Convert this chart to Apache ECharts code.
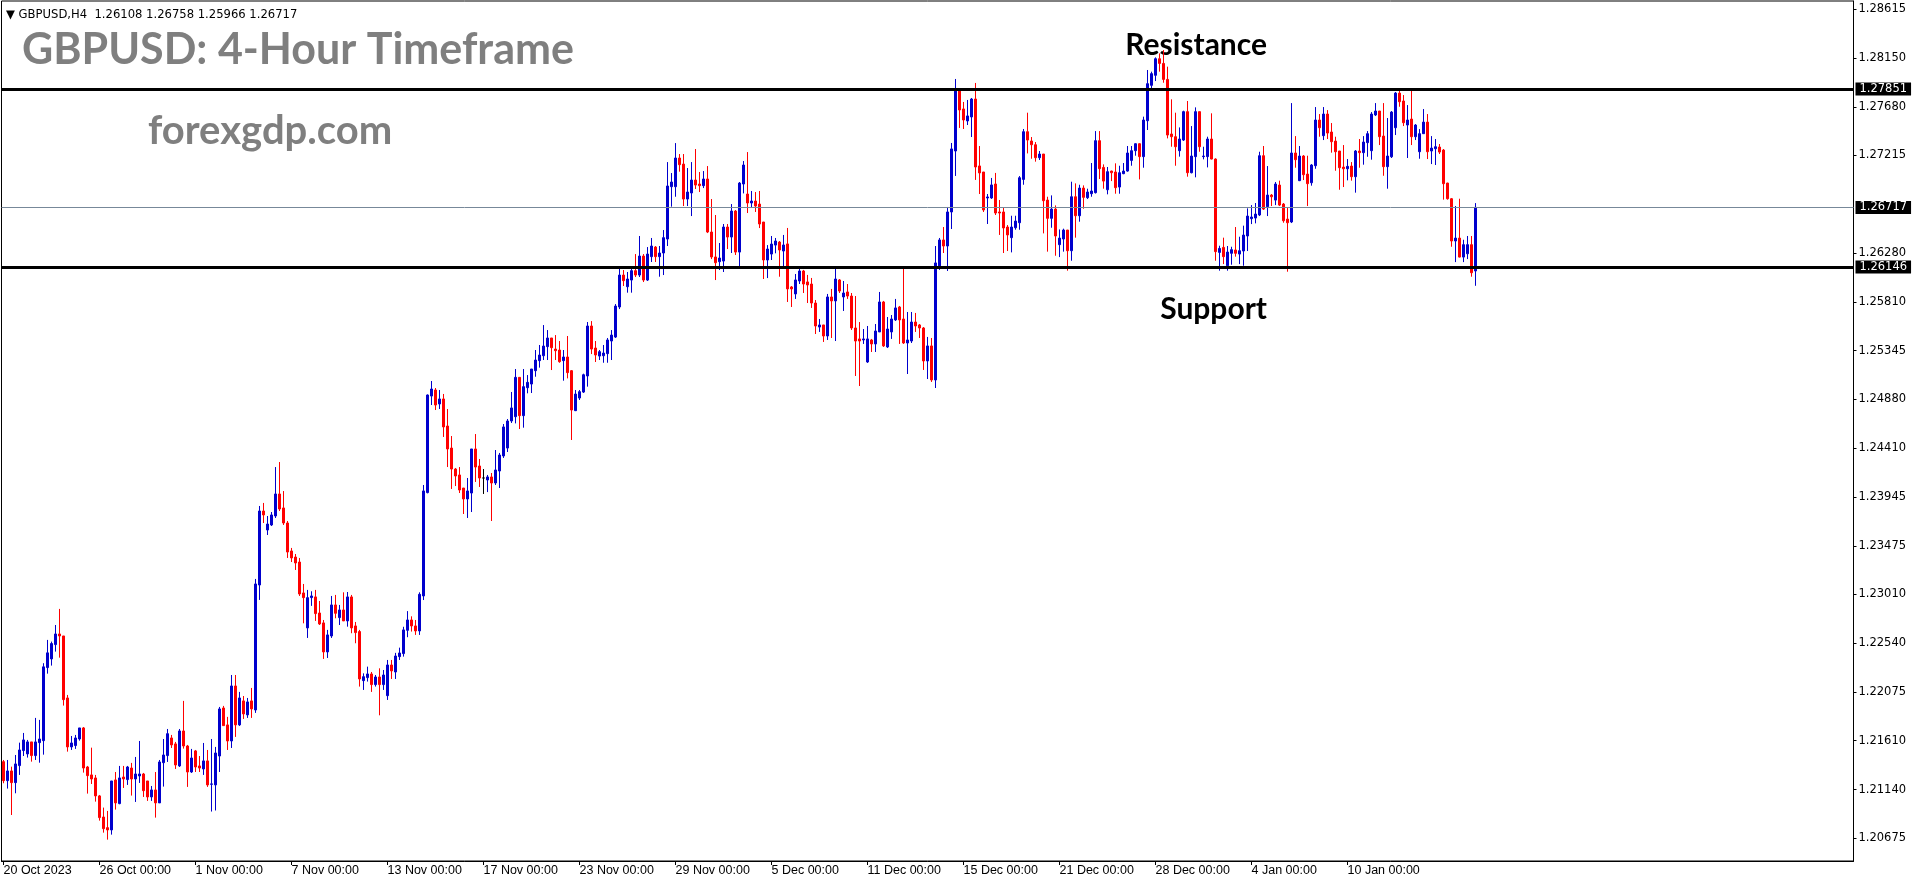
<!DOCTYPE html>
<html><head><meta charset="utf-8">
<script src="https://cdn.jsdelivr.net/npm/echarts@6/dist/echarts.min.js"></script>
<style>html,body{margin:0;padding:0;background:#fff;}#c{width:1916px;height:884px;}</style>
</head><body><div id="c"></div>
<script>
// ---------------- data ----------------
const symbolName = 'GBPUSD,H4';
const lastBarOHLC = ['1.26108', '1.26758', '1.25966', '1.26717'];
const titleText = 'GBPUSD: 4-Hour Timeframe';
const siteText = 'forexgdp.com';
const resistanceLevel = 1.27851;
const supportLevel = 1.26146;
const lastPrice = 1.26717;

const xTickLabels = ['20 Oct 2023','26 Oct 00:00','1 Nov 00:00','7 Nov 00:00','13 Nov 00:00','17 Nov 00:00',
  '23 Nov 00:00','29 Nov 00:00','5 Dec 00:00','11 Dec 00:00','15 Dec 00:00','21 Dec 00:00','28 Dec 00:00',
  '4 Jan 00:00','10 Jan 00:00','16 Jan 00:00'];
const yTickValues = [1.28615,1.28150,1.27680,1.27215,1.26280,1.25810,1.25345,1.24880,1.24410,1.23945,
  1.23475,1.23010,1.22540,1.22075,1.21610,1.21140,1.20675];

// rows: [open, high, low, close]
const octBars = [
[1.21408,1.21424,1.21201,1.21226],[1.21226,1.21424,1.21150,1.21319],[1.21319,1.21360,1.20897,1.21207],
[1.21207,1.21472,1.21105,1.21386],[1.21370,1.21590,1.21281,1.21520],[1.21514,1.21683,1.21462,1.21616],
[1.21482,1.21616,1.21447,1.21597],[1.21597,1.21597,1.21408,1.21466],[1.21466,1.21827,1.21424,1.21597],
[1.21590,1.21808,1.21398,1.21625],[1.21609,1.22351,1.21475,1.22316],[1.22309,1.22574,1.22251,1.22450],
[1.22392,1.22558,1.22328,1.22539],[1.22529,1.22717,1.22462,1.22631],[1.22631,1.22871,1.22404,1.22612],
[1.22612,1.22612,1.21945,1.22002],[1.22018,1.22047,1.21504,1.21549],[1.21549,1.21654,1.21520,1.21587],
[1.21562,1.21664,1.21530,1.21635],[1.21625,1.21731,1.21609,1.21731],[1.21731,1.21740,1.21303,1.21347],
[1.21357,1.21367,1.21102,1.21274],[1.21281,1.21542,1.21194,1.21242],[1.21252,1.21281,1.21025,1.21080],
[1.21080,1.21089,1.20843,1.20872],[1.20878,1.20968,1.20728,1.20766],[1.20776,1.20936,1.20661,1.20754],
[1.20754,1.21223,1.20709,1.21223],[1.21233,1.21309,1.20949,1.21013],[1.21006,1.21367,1.21000,1.21252],
[1.21261,1.21367,1.21156,1.21242],[1.21236,1.21367,1.21185,1.21357],[1.21347,1.21396,1.21083,1.21242],
[1.21242,1.21453,1.21022,1.21290],[1.21271,1.21606,1.21204,1.21290],[1.21290,1.21300,1.21070,1.21130],
[1.21223,1.21223,1.21032,1.21070],[1.21070,1.21175,1.21032,1.21137],[1.21137,1.21309,1.20872,1.21013],
[1.21013,1.21424,1.21013,1.21405],[1.21398,1.21625,1.21169,1.21472],[1.21466,1.21721,1.21405,1.21676],
[1.21635,1.21664,1.21539,1.21568],[1.21578,1.21597,1.21338,1.21376],[1.21367,1.21721,1.21357,1.21702],
[1.21702,1.21990,1.21533,1.21558],[1.21558,1.21568,1.21166,1.21309],[1.21309,1.21530,1.21300,1.21443]
];
const novBars = [
[1.21511,1.21520,1.21309,1.21357],[1.21367,1.21462,1.21309,1.21347],[1.21338,1.21587,1.21281,1.21415],
[1.21415,1.21520,1.21166,1.21185],[1.21191,1.21625,1.20930,1.21195],[1.21185,1.21549,1.20940,1.21491],
[1.21462,1.21932,1.21309,1.21913],[1.21922,1.21942,1.21753,1.21753],[1.21760,1.21837,1.21520,1.21606],
[1.21606,1.22238,1.21539,1.22133],[1.22133,1.22238,1.21645,1.21760],[1.21760,1.22076,1.21750,1.22018],
[1.21990,1.22037,1.21817,1.21865],[1.21856,1.22018,1.21827,1.21980],[1.21990,1.22114,1.21827,1.21913],
[1.21903,1.23158,1.21875,1.23110],[1.23100,1.23857,1.22957,1.23809],[1.23809,1.23886,1.23694,1.23771],
[1.23627,1.23761,1.23579,1.23684],[1.23675,1.23799,1.23665,1.23771],[1.23761,1.24230,1.23742,1.23972],
[1.23972,1.24278,1.23809,1.23828],[1.23838,1.24000,1.23675,1.23694],[1.23694,1.23713,1.23359,1.23416],
[1.23426,1.23455,1.23320,1.23359],[1.23368,1.23397,1.23244,1.23311],[1.23320,1.23359,1.22995,1.23014],
[1.23024,1.23110,1.22733,1.22979],[1.22689,1.23053,1.22593,1.22979],[1.22979,1.23040,1.22900,1.22995],
[1.22986,1.23053,1.22756,1.22826],[1.22832,1.22947,1.22717,1.22727],[1.22737,1.22765,1.22392,1.22459],
[1.22459,1.22670,1.22401,1.22622],[1.22612,1.22995,1.22593,1.22909],[1.22909,1.23005,1.22781,1.22829],
[1.22788,1.22909,1.22717,1.22861],[1.22861,1.23030,1.22756,1.22756],[1.22756,1.23033,1.22701,1.22986],
[1.22986,1.23005,1.22638,1.22689],[1.22708,1.22746,1.22542,1.22644],[1.22654,1.22670,1.22127,1.22200],
[1.22184,1.22254,1.22095,1.22222],[1.22213,1.22318,1.22175,1.22248],[1.22248,1.22267,1.22076,1.22146],
[1.22146,1.22238,1.22127,1.22219],[1.22219,1.22302,1.21852,1.22146],[1.22146,1.22286,1.22095,1.22238],
[1.22040,1.22382,1.21999,1.22334],[1.22334,1.22382,1.22200,1.22277],[1.22267,1.22450,1.22200,1.22420],
[1.22414,1.22500,1.22382,1.22449],[1.22443,1.22700,1.22414,1.22670],[1.22666,1.22850,1.22600,1.22765],
[1.22765,1.22800,1.22654,1.22708],[1.22708,1.22765,1.22622,1.22660],[1.22660,1.23030,1.22622,1.23011],
[1.22995,1.24058,1.22956,1.24001],[1.23985,1.24925,1.23978,1.24920],[1.24910,1.25054,1.24824,1.24977],
[1.24968,1.24987,1.24776,1.24824],[1.24834,1.24968,1.24786,1.24882],[1.24882,1.24930,1.24518,1.24614],
[1.24623,1.24786,1.24230,1.24403],[1.24412,1.24527,1.24020,1.24211],[1.24211,1.24221,1.24048,1.24144],
[1.24154,1.24230,1.23981,1.24010],[1.24029,1.24029,1.23780,1.23924],[1.23924,1.24125,1.23742,1.24001],
[1.23981,1.24403,1.23799,1.24403],[1.24403,1.24546,1.24087,1.24230],[1.24240,1.24307,1.24039,1.24125],
[1.24125,1.24211,1.23972,1.24125],[1.24106,1.24154,1.23990,1.24135],[1.24135,1.24173,1.23713,1.24077],
[1.24077,1.24393,1.24058,1.24202],[1.24192,1.24365,1.24029,1.24345],[1.24336,1.24642,1.24317,1.24614],
[1.24412,1.24690,1.24374,1.24671],[1.24671,1.24949,1.24652,1.24796],[1.24712,1.25169,1.24648,1.25089],
[1.25089,1.25089,1.24594,1.24722],[1.24722,1.25169,1.24607,1.25000],[1.24990,1.25111,1.24936,1.25041],
[1.25025,1.25169,1.24939,1.25169],[1.25153,1.25351,1.25095,1.25255],[1.25249,1.25399,1.25182,1.25303],
[1.25296,1.25590,1.25255,1.25389],[1.25383,1.25542,1.25255,1.25466],[1.25466,1.25466,1.25159,1.25373],
[1.25360,1.25494,1.25255,1.25344],[1.25351,1.25437,1.25229,1.25239],[1.25249,1.25351,1.25057,1.25284],
[1.25284,1.25485,1.25079,1.25134],[1.25153,1.25159,1.24489,1.24776],[1.24770,1.24968,1.24766,1.24929],
[1.24891,1.24968,1.24872,1.24952],[1.24948,1.25124,1.24939,1.25114],[1.25102,1.25619,1.25000,1.25581],
[1.25581,1.25628,1.25312,1.25360],[1.25370,1.25437,1.25236,1.25303],[1.25293,1.25351,1.25255,1.25335],
[1.25296,1.25399,1.25229,1.25322],[1.25316,1.25466,1.25229,1.25447],[1.25437,1.25542,1.25255,1.25494],
[1.25475,1.25791,1.25466,1.25772],[1.25763,1.26155,1.25743,1.26069],[1.26069,1.26117,1.25964,1.26015],
[1.25957,1.26098,1.25900,1.26031],[1.26021,1.26155,1.25900,1.26111],[1.26111,1.26270,1.26050,1.26069],
[1.26069,1.26443,1.26050,1.26251],[1.26251,1.26270,1.26002,1.26021],[1.26021,1.26337,1.26012,1.26270],
[1.26245,1.26424,1.26194,1.26347],[1.26337,1.26347,1.26194,1.26245],[1.26245,1.26347,1.26053,1.26280],
[1.26280,1.26500,1.26069,1.26427],[1.26414,1.27151,1.26347,1.26922],[1.26915,1.27046,1.26724,1.26960],
[1.26915,1.27333,1.26819,1.27190],[1.27190,1.27228,1.27059,1.27126],[1.27132,1.27228,1.26730,1.26797],
[1.26797,1.27094,1.26730,1.26864],[1.26855,1.27151,1.26634,1.26979],[1.26979,1.27276,1.26893,1.26931],
[1.26941,1.27056,1.26864,1.26925],[1.26925,1.27065,1.26902,1.26989],[1.26989,1.27113,1.26471,1.26481],
[1.26481,1.26797,1.26222,1.26242],[1.26242,1.26644,1.26021,1.26187],[1.26197,1.26376,1.26117,1.26232]
];
const decBars = [
[1.26203,1.26558,1.26098,1.26529],[1.26529,1.26558,1.26318,1.26433],[1.26433,1.26749,1.26280,1.26682],
[1.26682,1.26692,1.26261,1.26289],[1.26289,1.26960,1.26155,1.26950],[1.26941,1.27161,1.26851,1.27123],
[1.26845,1.27247,1.26663,1.26759],[1.26759,1.26874,1.26711,1.26778],[1.26778,1.26864,1.26673,1.26730],
[1.26749,1.26874,1.26519,1.26558],[1.26577,1.26577,1.26031,1.26213],[1.26213,1.26356,1.26040,1.26318],
[1.26270,1.26443,1.26213,1.26366],[1.26356,1.26424,1.26277,1.26395],[1.26385,1.26395,1.26053,1.26309],
[1.26299,1.26453,1.26149,1.26357],[1.26367,1.26520,1.25811,1.25936],[1.25955,1.25964,1.25763,1.25936],
[1.25888,1.26079,1.25840,1.26022],[1.26012,1.26127,1.25983,1.26108],[1.26108,1.26118,1.25897,1.25983],
[1.26003,1.26070,1.25801,1.25974],[1.25983,1.26041,1.25754,1.25801],[1.25801,1.25830,1.25504,1.25581],
[1.25571,1.25648,1.25524,1.25591],[1.25591,1.25591,1.25428,1.25485],[1.25485,1.25888,1.25447,1.25859],
[1.25859,1.25936,1.25466,1.25821],[1.25821,1.26127,1.25437,1.26031],[1.26022,1.26031,1.25897,1.25916],
[1.25859,1.26012,1.25725,1.25897],[1.25907,1.25983,1.25840,1.25868],[1.25868,1.25897,1.25543,1.25562],
[1.25562,1.25868,1.25102,1.25437],[1.25457,1.25619,1.25006,1.25437],[1.25447,1.25552,1.25409,1.25457],
[1.25236,1.25581,1.25227,1.25457],[1.25447,1.25457,1.25332,1.25409],[1.25409,1.25600,1.25332,1.25533],
[1.25524,1.25907,1.25524,1.25811],[1.25811,1.25821,1.25380,1.25390],[1.25380,1.25667,1.25370,1.25552],
[1.25524,1.25686,1.25457,1.25648],[1.25639,1.25840,1.25629,1.25754],[1.25763,1.25773,1.25409,1.25639],
[1.25648,1.26127,1.25409,1.25418],[1.25418,1.25715,1.25121,1.25447],[1.25437,1.25715,1.25418,1.25619],
[1.25619,1.25706,1.25524,1.25581],[1.25591,1.25600,1.25466,1.25562],[1.25562,1.25571,1.25160,1.25246],
[1.25246,1.25476,1.25073,1.25390],[1.25390,1.25466,1.25045,1.25064],[1.25064,1.26347,1.24987,1.26185],
[1.26156,1.26424,1.26118,1.26405],[1.26405,1.26529,1.26280,1.26347],[1.26347,1.26721,1.26108,1.26673],
[1.26673,1.27334,1.26510,1.27277],[1.27257,1.27947,1.27018,1.27851],[1.27842,1.27851,1.27478,1.27650],
[1.27660,1.27727,1.27468,1.27554],[1.27545,1.27746,1.27506,1.27593],[1.27583,1.27765,1.27391,1.27755],
[1.27755,1.27909,1.26980,1.27104],[1.27114,1.27305,1.26845,1.27047],[1.27056,1.27056,1.26673,1.26692],
[1.26807,1.26845,1.26558,1.26817],[1.26807,1.26999,1.26798,1.26932],[1.26941,1.27047,1.26644,1.26663],
[1.26673,1.26788,1.26453,1.26663],[1.26673,1.26711,1.26280,1.26520],[1.26529,1.26548,1.26299,1.26453],
[1.26427,1.26637,1.26286,1.26529],[1.26522,1.26637,1.26503,1.26586],[1.26570,1.27017,1.26503,1.27001],
[1.26985,1.27468,1.26934,1.27442],[1.27442,1.27624,1.27234,1.27362],[1.27353,1.27391,1.27183,1.27317],
[1.27317,1.27343,1.27155,1.27193],[1.27193,1.27257,1.27171,1.27228],[1.27228,1.27228,1.26468,1.26781],
[1.26787,1.26819,1.26293,1.26612],[1.26612,1.26832,1.26522,1.26701],[1.26701,1.26736,1.26254,1.26443],
[1.26360,1.26506,1.26241,1.26423],[1.26414,1.26513,1.26293,1.26500],[1.26500,1.26500,1.26111,1.26302],
[1.26302,1.26963,1.26206,1.26819],[1.26819,1.26947,1.26427,1.26637],[1.26637,1.26934,1.26580,1.26902],
[1.26902,1.26928,1.26704,1.26813],[1.26810,1.26896,1.26797,1.26864],[1.26848,1.27142,1.26819,1.26874],
[1.26858,1.27448,1.26850,1.27356],[1.27356,1.27448,1.26989,1.27088],[1.27100,1.27129,1.26896,1.26969],
[1.26886,1.27104,1.26842,1.27059],[1.27065,1.27068,1.26969,1.27049],[1.27056,1.27139,1.26848,1.26906],
[1.26912,1.27116,1.26848,1.27049],[1.27040,1.27142,1.27035,1.27065],[1.27065,1.27305,1.27059,1.27238],
[1.27167,1.27305,1.27116,1.27260],[1.27260,1.27330,1.27212,1.27327],[1.27327,1.27330,1.26985,1.27203],
[1.27203,1.27586,1.27097,1.27554],[1.27547,1.28033,1.27458,1.27902],[1.27886,1.28017,1.27841,1.27998],
[1.27982,1.28154,1.27927,1.28141],[1.28141,1.28192,1.28017,1.28096],[1.28096,1.28224,1.27911,1.27943],
[1.27943,1.28065,1.27378,1.27410],[1.27420,1.27752,1.27298,1.27394],[1.27394,1.27624,1.27116,1.27298],
[1.27260,1.27483,1.27203,1.27372],[1.27362,1.27643,1.27353,1.27634],[1.27634,1.27736,1.27011,1.27049],
[1.27049,1.27496,1.27043,1.27209],[1.27203,1.27675,1.27005,1.27634],[1.27634,1.27634,1.27250,1.27298]
];
const janBars = [
[1.27203,1.27298,1.27177,1.27209],[1.27203,1.27394,1.27100,1.27372],[1.27372,1.27618,1.27177,1.27180],
[1.27180,1.27187,1.26206,1.26293],[1.26286,1.26350,1.26111,1.26324],[1.26334,1.26427,1.26174,1.26245],
[1.26158,1.26347,1.26111,1.26289],[1.26277,1.26340,1.26168,1.26312],[1.26309,1.26529,1.26245,1.26277],
[1.26270,1.26436,1.26174,1.26302],[1.26299,1.26542,1.26158,1.26452],[1.26443,1.26708,1.26299,1.26634],
[1.26609,1.26739,1.26557,1.26625],[1.26615,1.26759,1.26564,1.26653],[1.26644,1.27250,1.26634,1.27212],
[1.27212,1.27305,1.26692,1.26701],[1.26724,1.27113,1.26634,1.26835],[1.26835,1.26845,1.26730,1.26819],
[1.26787,1.26960,1.26739,1.26941],[1.26931,1.26973,1.26730,1.26739],[1.26749,1.26759,1.26570,1.26589],
[1.26605,1.26711,1.26101,1.26570],[1.26577,1.27716,1.26567,1.27238],[1.27238,1.27400,1.27097,1.27174],
[1.26973,1.27305,1.26969,1.27209],[1.27209,1.27218,1.26979,1.27030],[1.27036,1.27212,1.26730,1.26944],
[1.26953,1.27132,1.26925,1.27123],[1.27116,1.27678,1.27087,1.27554],[1.27554,1.27611,1.27394,1.27480],
[1.27404,1.27678,1.27362,1.27611],[1.27611,1.27649,1.27372,1.27429],[1.27439,1.27525,1.27241,1.27346],
[1.27352,1.27394,1.27068,1.27250],[1.27257,1.27257,1.26886,1.27097],[1.27103,1.27314,1.26912,1.27087],
[1.27087,1.27180,1.26976,1.27110],[1.27113,1.27151,1.26973,1.27011],[1.27011,1.27266,1.26858,1.27257],
[1.27257,1.27372,1.27097,1.27241],[1.27241,1.27400,1.27126,1.27343],[1.27337,1.27448,1.27202,1.27423],
[1.27260,1.27630,1.27174,1.27611],[1.27602,1.27716,1.27592,1.27640],[1.27640,1.27640,1.27314,1.27394],
[1.27400,1.27716,1.27020,1.27107],[1.27107,1.27573,1.26896,1.27209],[1.27202,1.27640,1.27190,1.27630],
[1.27480,1.27822,1.27410,1.27812],[1.27812,1.27841,1.27681,1.27729],[1.27736,1.27793,1.27496,1.27528],
[1.27506,1.27697,1.27190,1.27554],[1.27563,1.27860,1.27314,1.27394],[1.27394,1.27515,1.27362,1.27506],
[1.27250,1.27467,1.27183,1.27423],[1.27423,1.27659,1.27420,1.27534],[1.27534,1.27611,1.27180,1.27250],
[1.27257,1.27400,1.27132,1.27285],[1.27279,1.27372,1.27123,1.27298],[1.27295,1.27324,1.27228,1.27247],
[1.27266,1.27276,1.26791,1.26944],[1.26950,1.26953,1.26791,1.26800],[1.26800,1.26807,1.26340,1.26395],
[1.26395,1.26730,1.26193,1.26423],[1.26423,1.26800,1.26238,1.26241],[1.26241,1.26407,1.26193,1.26360],
[1.26273,1.26443,1.26222,1.26360],[1.26360,1.26443,1.26053,1.26091],[1.26108,1.26758,1.25966,1.26717]
];

// ---------------- chart ----------------
const BARS_PER_LABEL = 24;
const SLOTS = 463; // visible bar slots, incl. empty right margin (chart shift)
const bars = [...octBars, ...novBars, ...decBars, ...janBars];
const categories = Array.from({length: SLOTS}, (_, i) =>
  (i % BARS_PER_LABEL === 0 && xTickLabels[i / BARS_PER_LABEL]) ? xTickLabels[i / BARS_PER_LABEL] : ('bar' + i));
const candleData = bars.map(b => [b[0], b[3], b[2], b[1]]); // [open, close, low, high]
const showTick = (i) => i % BARS_PER_LABEL === 0 && (i / BARS_PER_LABEL) < xTickLabels.length;

const BLUE = '#0000cd', RED = '#ff0000';
const axisFont = 'DejaVu Sans';
const chart = echarts.init(document.getElementById('c'), null, {renderer: 'canvas'});
chart.setOption({
  animation: false,
  backgroundColor: '#ffffff',
  grid: {left: 1.5, right: 62.5, top: 1, bottom: 23, show: true, borderColor: '#000', borderWidth: 1},
  xAxis: {
    type: 'category', data: categories, boundaryGap: true,
    axisLine: {show: true, lineStyle: {color: '#000', width: 1}},
    axisTick: {show: true, alignWithLabel: true, interval: showTick, length: 4, lineStyle: {color: '#000'}},
    axisLabel: {interval: showTick, color: '#000', fontSize: 12.5, fontFamily: 'Liberation Sans',
      align: 'left', margin: 3, showMinLabel: true, showMaxLabel: false, hideOverlap: false,
      formatter: (v) => v},
    splitLine: {show: false}
  },
  yAxis: {
    type: 'value', position: 'right', scale: true,
    min: 1.204564, max: 1.286939,
    axisLine: {show: true, lineStyle: {color: '#000', width: 1}},
    axisTick: {show: true, length: 3, inside: false, customValues: yTickValues, lineStyle: {color: '#000'}},
    axisLabel: {customValues: yTickValues, color: '#000', fontSize: 11.5, fontFamily: axisFont, margin: 5,
      formatter: (v) => v.toFixed(5)},
    splitLine: {show: false}
  },
  series: [{
    type: 'candlestick',
    data: candleData,
    barWidth: 2,
    emphasis: {disabled: true},
    itemStyle: {color: BLUE, color0: RED, borderColor: BLUE, borderColor0: RED, borderColorDoji: '#000', borderWidth: 1},
    markLine: {
      silent: true, symbol: ['none', 'none'], animation: false, precision: 5,
      label: {show: true, position: 'end', distance: 2, formatter: (p) => Number(p.value).toFixed(5),
        color: '#fff', backgroundColor: '#000', padding: [1, 4, 0, 4], fontSize: 11.5, fontFamily: axisFont},
      data: [
        {yAxis: lastPrice, lineStyle: {color: '#778899', width: 1, type: 'solid'}},
        {yAxis: resistanceLevel, lineStyle: {color: '#000', width: 3, type: 'solid'}},
        {yAxis: supportLevel, lineStyle: {color: '#000', width: 3, type: 'solid'}}
      ]
    }
  }],
  graphic: [
    {type: 'text', x: 6, y: 15, silent: true, style: {text: '\u25BC ' + symbolName + '  ' + lastBarOHLC.join(' '),
      font: '11.6px "DejaVu Sans"', fill: '#000', verticalAlign: 'middle', align: 'left'}},
    {type: 'text', x: 22, y: 50, silent: true, style: {text: titleText,
      font: 'bold 43px Lato', fill: '#7f7f7f', verticalAlign: 'middle', align: 'left'}},
    {type: 'text', x: 148, y: 131, silent: true, style: {text: siteText,
      font: 'bold 40px Lato', fill: '#7f7f7f', verticalAlign: 'middle', align: 'left'}},
    {type: 'text', x: 1267, y: 45, silent: true, style: {text: 'Resistance',
      font: 'bold 30px Lato', fill: '#000', verticalAlign: 'middle', align: 'right'}},
    {type: 'text', x: 1267, y: 309, silent: true, style: {text: 'Support',
      font: 'bold 30px Lato', fill: '#000', verticalAlign: 'middle', align: 'right'}}
  ]
});
</script></body></html>
